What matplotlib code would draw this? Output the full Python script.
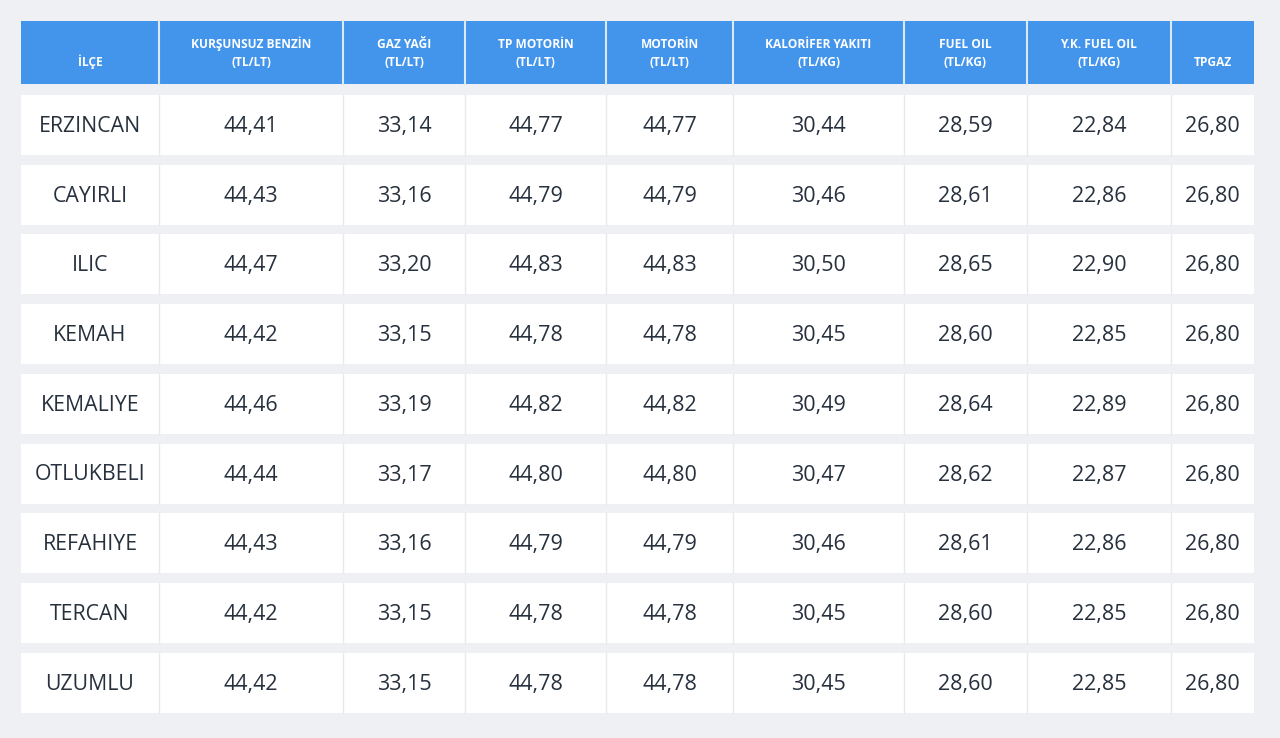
import matplotlib.pyplot as plt
from matplotlib.patches import Rectangle

# table data
districts = ["ERZINCAN", "CAYIRLI", "ILIC", "KEMAH", "KEMALIYE",
             "OTLUKBELI", "REFAHIYE", "TERCAN", "UZUMLU"]
headers = ["İLÇE", "KURŞUNSUZ BENZİN\n(TL/LT)", "GAZ YAĞI\n(TL/LT)",
           "TP MOTORİN\n(TL/LT)", "MOTORİN\n(TL/LT)", "KALORİFER YAKITI\n(TL/KG)",
           "FUEL OIL\n(TL/KG)", "Y.K. FUEL OIL\n(TL/KG)", "TPGAZ"]
benzin = [44.41, 44.43, 44.47, 44.42, 44.46, 44.44, 44.43, 44.42, 44.42]
gaz_yagi = [33.14, 33.16, 33.20, 33.15, 33.19, 33.17, 33.16, 33.15, 33.15]
tp_motorin = [44.77, 44.79, 44.83, 44.78, 44.82, 44.80, 44.79, 44.78, 44.78]
motorin = [44.77, 44.79, 44.83, 44.78, 44.82, 44.80, 44.79, 44.78, 44.78]
kalorifer = [30.44, 30.46, 30.50, 30.45, 30.49, 30.47, 30.46, 30.45, 30.45]
fuel_oil = [28.59, 28.61, 28.65, 28.60, 28.64, 28.62, 28.61, 28.60, 28.60]
yk_fuel_oil = [22.84, 22.86, 22.90, 22.85, 22.89, 22.87, 22.86, 22.85, 22.85]
tpgaz = [26.80] * 9

columns = [benzin, gaz_yagi, tp_motorin, motorin, kalorifer, fuel_oil, yk_fuel_oil, tpgaz]

# layout (pixels)
col_edges = [21, 159, 343, 465, 606, 733, 904, 1027, 1171, 1254]
header_top, header_bot = 21, 84
row_top0, row_h, row_step = 95, 60, 69.7

bg = "#eef0f3"
blue = "#4395ec"
txt = "#27303d"

plt.rcParams['font.family'] = ['Open Sans', 'DejaVu Sans']

fig = plt.figure(figsize=(12.8, 7.38), dpi=100, facecolor=bg)
ax = fig.add_axes([0, 0, 1, 1])
ax.set_xlim(0, 1280)
ax.set_ylim(738, 0)
ax.axis("off")

def fmt(v):
    return f"{v:.2f}".replace(".", ",")

# header
for j, h in enumerate(headers):
    x0, x1 = col_edges[j], col_edges[j + 1]
    ax.add_patch(Rectangle((x0, header_top), x1 - x0, header_bot - header_top,
                           facecolor=blue, edgecolor="none"))
    lines = h.split("\n")
    cx = (x0 + x1) / 2
    if len(lines) == 2:
        ax.text(cx, 44, lines[0], ha="center", va="center", color="white",
                fontsize=8.6, fontweight="bold")
        ax.text(cx, 62, lines[1], ha="center", va="center", color="white",
                fontsize=8.6, fontweight="bold")
    else:
        ax.text(cx, 62, lines[0], ha="center", va="center", color="white",
                fontsize=8.6, fontweight="bold")
for x in col_edges[1:-1]:
    ax.plot([x, x], [header_top, header_bot], color="#dbe8f7", lw=1.5)

# body rows
for i, name in enumerate(districts):
    y0 = row_top0 + i * row_step
    ax.add_patch(Rectangle((col_edges[0], y0), col_edges[-1] - col_edges[0], row_h,
                           facecolor="white", edgecolor="none"))
    for x in col_edges[1:-1]:
        ax.plot([x, x], [y0, y0 + row_h], color="#e8e9ec", lw=1)
    cy = y0 + row_h / 2 + 1.5
    ax.text((col_edges[0] + col_edges[1]) / 2, cy, name, ha="center", va="center",
            color=txt, fontsize=15.3)
    for j, col in enumerate(columns):
        cx = (col_edges[j + 1] + col_edges[j + 2]) / 2
        ax.text(cx, cy, fmt(col[i]), ha="center", va="center", color=txt, fontsize=15.5)

fig.savefig("out.png", dpi=100, facecolor=bg)
